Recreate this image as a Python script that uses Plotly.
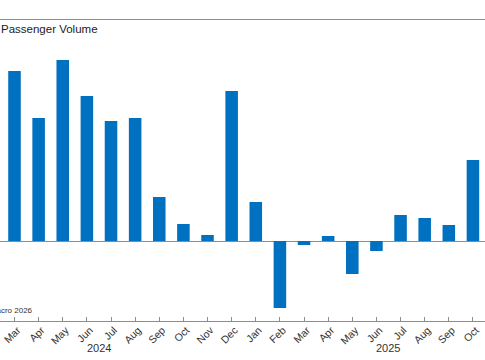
import plotly.graph_objects as go

# Months indexed from Jan 2024 = 0
month_index = list(range(2, 22))  # Mar 2024 .. Oct 2025
month_labels = ["Mar", "Apr", "May", "Jun", "Jul", "Aug", "Sep", "Oct", "Nov", "Dec",
                "Jan", "Feb", "Mar", "Apr", "May", "Jun", "Jul", "Aug", "Sep", "Oct"]
values = [17.0, 12.3, 18.1, 14.5, 12.0, 12.3, 4.4, 1.7, 0.6, 15.0,
          3.9, -6.7, -0.4, 0.5, -3.3, -1.0, 2.6, 2.3, 1.6, 8.1]
tick_index = list(range(2, 23))
tick_labels = month_labels + ["Nov"]
years = ["2024", "2025"]
year_centers = [5.5, 17.5]

fig = go.Figure()
fig.add_trace(go.Bar(x=month_index, y=values, width=0.52,
                     marker=dict(color="#0070C0", line=dict(width=0))))

W, H = 485, 360
mt, mb = 20, 39
ph = H - mt - mb

fig.update_layout(
    width=W, height=H,
    margin=dict(l=0, r=0, t=mt, b=mb, pad=0, autoexpand=False),
    plot_bgcolor="white", paper_bgcolor="white",
    showlegend=False,
    font=dict(family="Liberation Sans, Arial, sans-serif", color="#333333"),
    xaxis=dict(range=[1.399, 21.5], tickvals=tick_index, ticktext=tick_labels,
               tickangle=-45, ticks="inside", ticklen=4, tickcolor="#8c8c8c",
               showline=True, linecolor="#8c8c8c", linewidth=1, mirror=True,
               automargin=False, ticklabeloverflow="allow",
               ticklabelshift=3, ticklabelstandoff=-2,
               showgrid=False, zeroline=False, tickfont=dict(size=10.5, color="#333333")),
    yaxis=dict(range=[-8.0, 22.1], showticklabels=False, showgrid=False,
               automargin=False,
               zeroline=True, zerolinecolor="#8c8c8c", zerolinewidth=1, ticks=""),
)

annotations = [
    dict(text="Passenger Volume", xref="paper", yref="paper", x=-1 / W, y=1 - 9 / ph,
         xanchor="left", yanchor="middle", showarrow=False,
         font=dict(size=11.5, color="#222222")),
    dict(text="Source: Macro 2026", xref="paper", yref="paper", x=35 / W, y=11 / ph,
         xanchor="right", yanchor="middle", showarrow=False,
         font=dict(size=8, color="#333333")),
]
for yr, c in zip(years, year_centers):
    annotations.append(dict(text=yr, xref="x", yref="paper", x=c, y=-27 / ph,
                            xanchor="center", yanchor="middle", showarrow=False,
                            font=dict(size=11, color="#333333")))
fig.update_layout(annotations=annotations)

fig.write_html("out.html", config={"displayModeBar": False},
               post_script="document.body.style.margin='0';document.body.style.overflow='hidden';")
